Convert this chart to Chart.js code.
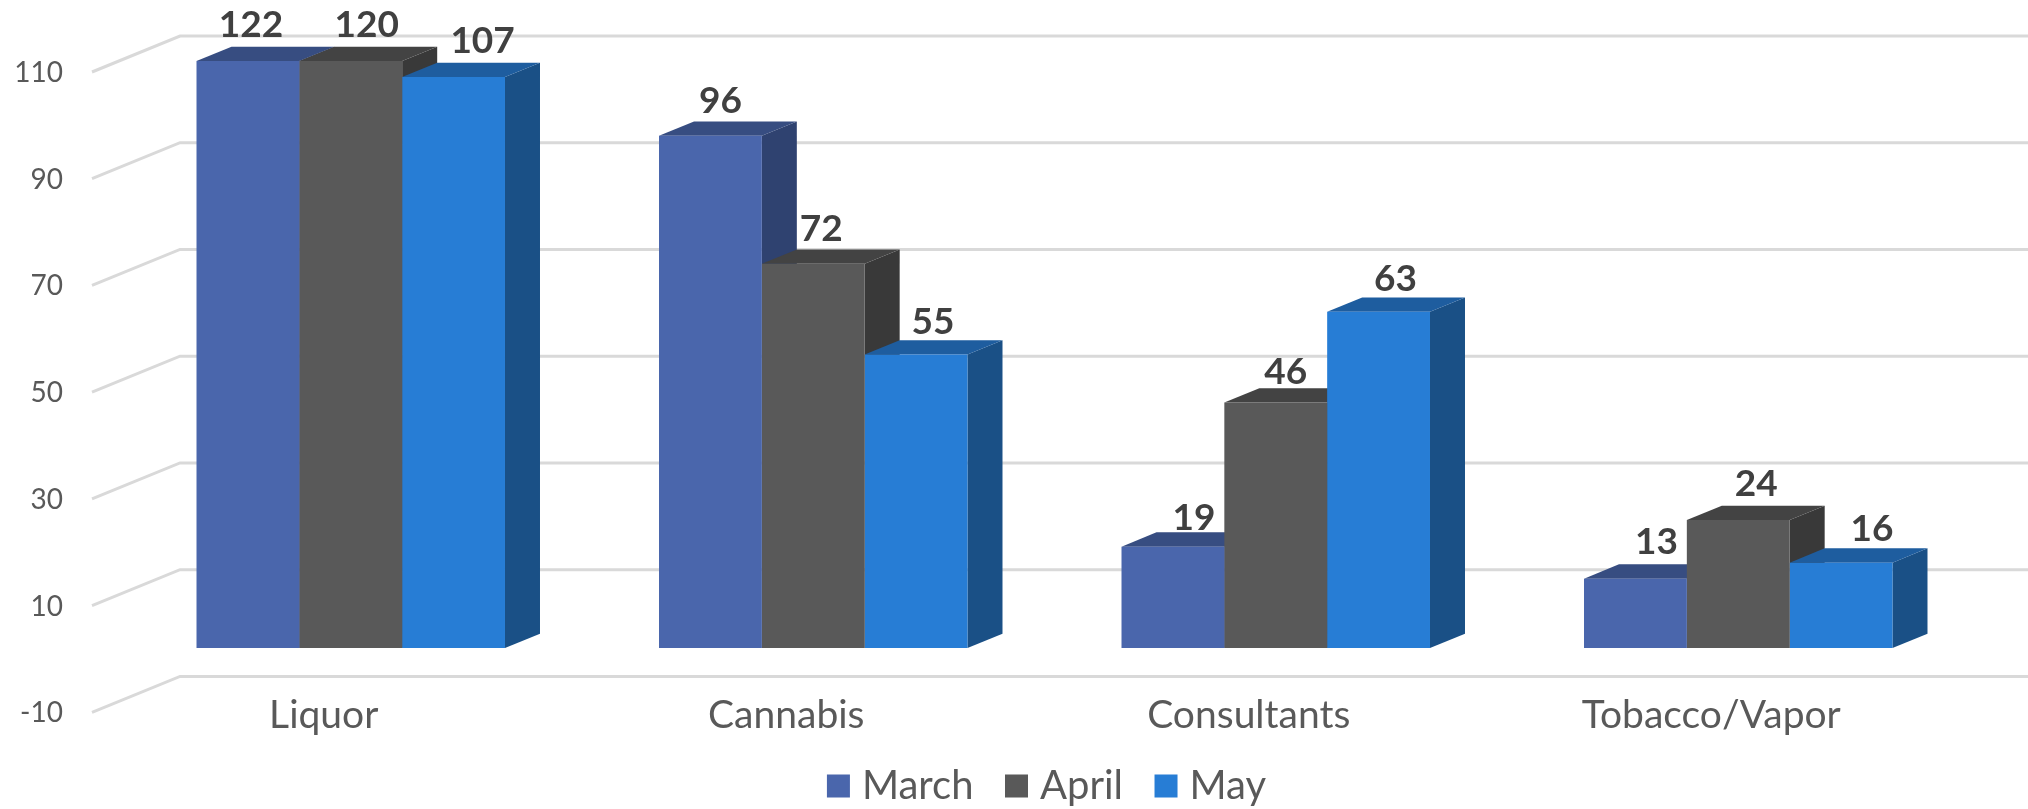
<!DOCTYPE html>
<html>
<head>
<meta charset="utf-8">
<style>html,body{margin:0;padding:0;background:#fff}canvas{display:block}</style>
<script src="https://cdn.jsdelivr.net/npm/chart.js@4"></script>
</head>
<body>
<canvas id="c" width="2028" height="809"></canvas>
<script>
const categories = ['Liquor', 'Cannabis', 'Consultants', 'Tobacco/Vapor'];
const march = [122, 96, 19, 13];
const april = [120, 72, 46, 24];
const may = [107, 55, 63, 16];
const seriesNames = ['March', 'April', 'May'];
const yMin = -10, yMax = 110, yStep = 20;

const frontColors = ['#4a66ac', '#595959', '#277dd5'];
const topColors = ['#374d81', '#434343', '#1e5d9f'];
const sideColors = ['#2f4270', '#393939', '#1a5086'];
const depthX = 35, depthY = 14.3;
const labelShiftX = [[3, 10, 21, 21], [16, 8, 10, 18], [29, 17, 17, 31]];
const labelShiftY = [[-22, -20.5, -14, -22.5], [-22, -20.5, -16, -22], [-22, -18, -18.5, -19]];
const wallBack = {x: 180, dy: -25}, wallFront = {x: 92, dy: 11};

const threeD = {
  id: 'threeD',
  afterLayout(chart) {
    const l = chart.legend;
    l.left = 0; l.right = 2101; l.top = 726.5; l.bottom = 809;
    chart.scales.x.top = 680;
  },
  beforeDatasetsDraw(chart) {
    const {ctx, chartArea, scales} = chart;
    ctx.save();
    ctx.strokeStyle = '#d9d9d9';
    ctx.lineWidth = 3;
    scales.y.ticks.forEach(t => {
      const y = scales.y.getPixelForValue(t.value);
      ctx.beginPath();
      ctx.moveTo(wallFront.x, y + wallFront.dy);
      ctx.lineTo(wallBack.x, y + wallBack.dy);
      ctx.lineTo(chart.width, y + wallBack.dy);
      ctx.stroke();
    });
    chart.data.datasets.forEach((ds, di) => {
      chart.getDatasetMeta(di).data.forEach(bar => {
        const p = bar.getProps(['x', 'y', 'base', 'width'], true);
        const l = p.x - p.width / 2, r = p.x + p.width / 2;
        const y = Math.max(p.y, chartArea.top), b = p.base;
        ctx.fillStyle = sideColors[di];
        ctx.beginPath();
        ctx.moveTo(r, y); ctx.lineTo(r + depthX, y - depthY);
        ctx.lineTo(r + depthX, b - depthY); ctx.lineTo(r, b);
        ctx.closePath(); ctx.fill();
        ctx.fillStyle = topColors[di];
        ctx.beginPath();
        ctx.moveTo(l, y); ctx.lineTo(l + depthX, y - depthY);
        ctx.lineTo(r + depthX, y - depthY); ctx.lineTo(r, y);
        ctx.closePath(); ctx.fill();
      });
    });
    ctx.restore();
  },
  afterDatasetsDraw(chart) {
    const {ctx, chartArea} = chart;
    ctx.save();
    ctx.font = 'bold 37px Lato';
    ctx.fillStyle = '#404040';
    ctx.textAlign = 'center';
    ctx.textBaseline = 'middle';
    chart.data.datasets.forEach((ds, di) => {
      chart.getDatasetMeta(di).data.forEach((bar, i) => {
        const p = bar.getProps(['x', 'y'], true);
        const y = Math.max(p.y, chartArea.top) - depthY;
        ctx.fillText(String(ds.data[i]), p.x + labelShiftX[di][i], y + labelShiftY[di][i]);
      });
    });
    ctx.restore();
  }
};

const font = s => ({family: 'Lato', size: s});
new Chart(document.getElementById('c'), {
  type: 'bar',
  data: {
    labels: categories,
    datasets: [march, april, may].map((d, i) => ({
      label: seriesNames[i], data: d, backgroundColor: frontColors[i], borderWidth: 0,
      barPercentage: 1, categoryPercentage: 0.667, pointStyle: 'rect'
    }))
  },
  plugins: [threeD],
  options: {
    responsive: false,
    animation: false,
    layout: {padding: {top: 61, left: 0, right: 58.5, bottom: -20}},
    plugins: {
      tooltip: {enabled: false},
      legend: {
        position: 'bottom',
        labels: {usePointStyle: true, pointStyle: 'rect', boxWidth: 7, boxHeight: 23, padding: 39.5, color: '#595959', font: font(40)}
      }
    },
    scales: {
      x: {
        grid: {display: false, drawTicks: false}, border: {display: false},
        ticks: {color: '#595959', font: font(39), labelOffset: -27, padding: 12, maxRotation: 0, autoSkip: false},
        afterFit(s) { s.height = 809 + 20 - 701.4 - s.chart.legend.height; s.paddingLeft = 0; s.paddingRight = 0; }
      },
      y: {
        min: yMin, max: yMax,
        grid: {display: false, drawTicks: false}, border: {display: false},
        ticks: {stepSize: yStep, color: '#595959', font: font(28), padding: 56.5, labelOffset: 12},
        afterFit(s) { s.width = 119.5; s.paddingTop = 0; s.paddingBottom = 0; }
      }
    }
  }
});
</script>
</body>
</html>
